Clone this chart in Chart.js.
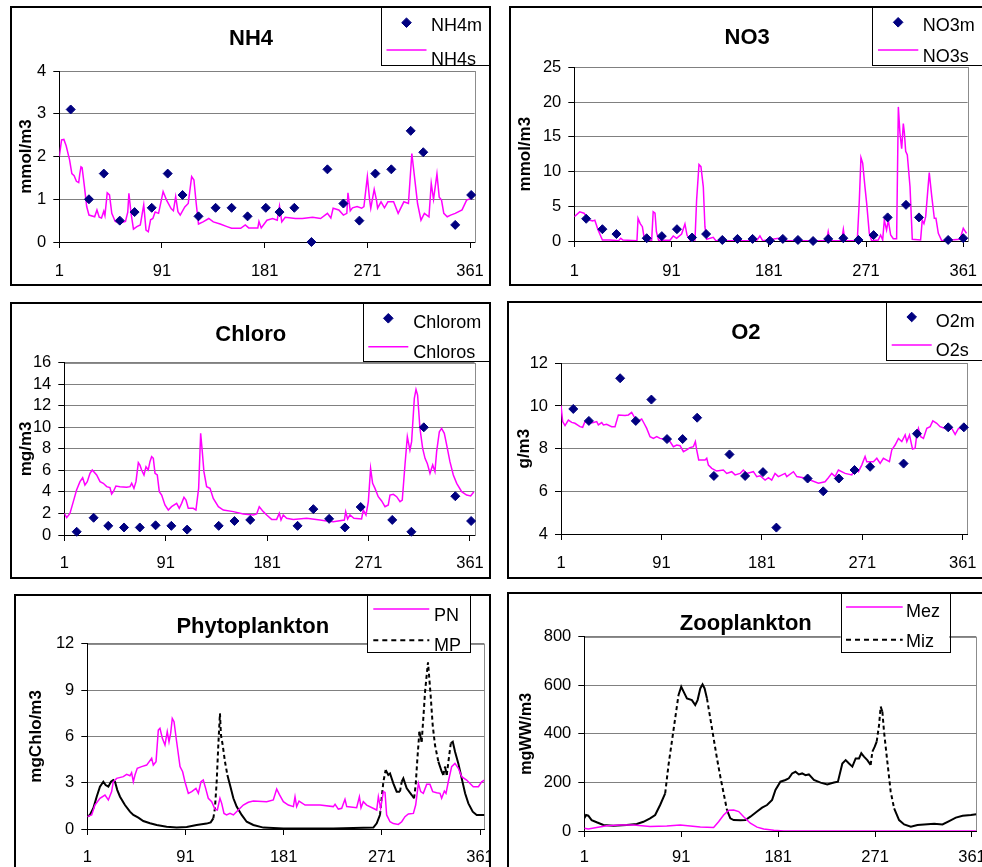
<!DOCTYPE html>
<html>
<head>
<meta charset="utf-8">
<script src="https://cdn.jsdelivr.net/npm/chart.js@4.4.1/dist/chart.umd.min.js"></script>
<style>
  html, body { margin: 0; padding: 0; background: #fff; width: 982px; height: 867px; overflow: hidden; position: relative; }
  canvas, .frame { position: absolute; }
  .frame { border: 2px solid #000; box-sizing: border-box; pointer-events: none; }
</style>
</head>
<body>
<script>
// Day of year axis, shared by all six panels
const DAY_TICKS = [1, 91, 181, 271, 361];

// Y tick labels
const NH4_TICKS = [0, 1, 2, 3, 4];
const NO3_TICKS = [0, 5, 10, 15, 20, 25];
const CHLORO_TICKS = [0, 2, 4, 6, 8, 10, 12, 14, 16];
const O2_TICKS = [4, 6, 8, 10, 12];
const PHYTO_TICKS = [0, 3, 6, 9, 12];
const ZOO_TICKS = [0, 200, 400, 600, 800];

// NH4 measured / simulated
const nh4mDays = [11, 27, 40, 54, 67, 82, 96, 109, 123, 138, 152, 166, 182, 194, 207, 222, 236, 250, 264, 278, 292, 309, 320, 348, 362];
const nh4mValues = [3.1, 1.0, 1.6, 0.5, 0.7, 0.8, 1.6, 1.1, 0.6, 0.8, 0.8, 0.6, 0.8, 0.7, 0.8, 0, 1.7, 0.9, 0.5, 1.6, 1.7, 2.6, 2.1, 0.4, 1.1];
const nh4sDays = [1, 3, 5, 7, 10, 12, 14, 16, 18, 19, 20, 21, 23, 25, 27, 32, 34, 36, 38, 40, 41, 43, 45, 47, 50, 54, 59, 61, 62, 64, 66, 69, 72, 75, 77, 79, 81, 83, 85, 88, 92, 95, 99, 101, 103, 105, 107, 111, 114, 117, 119, 121, 123, 127, 132, 136, 142, 148, 152, 160, 164, 167, 175, 176, 178, 183, 188, 192, 194, 196, 199, 208, 214, 223, 230, 236, 239, 241, 246, 250, 253, 254, 256, 258, 262, 266, 268, 271, 273, 274, 277, 279, 280, 283, 286, 289, 294, 298, 303, 307, 310, 312, 315, 318, 321, 325, 327, 329, 332, 334, 336, 338, 341, 344, 348, 354, 358, 362, 365];
const nh4sValues = [2.0, 2.39, 2.4, 2.25, 1.92, 1.6, 1.55, 1.42, 1.39, 1.6, 1.76, 1.74, 1.3, 0.83, 0.63, 0.59, 0.75, 0.58, 0.56, 0.72, 0.62, 1.15, 1.1, 0.67, 0.48, 0.44, 0.48, 0.7, 1.14, 0.65, 0.3, 0.36, 0.4, 0.87, 0.28, 0.24, 0.52, 0.55, 0.7, 0.67, 1.18, 0.98, 0.78, 0.73, 1.06, 0.71, 0.63, 0.82, 0.9, 1.53, 1.45, 0.9, 0.42, 0.47, 0.55, 0.47, 0.42, 0.36, 0.32, 0.32, 0.4, 0.33, 0.33, 0.48, 0.33, 0.51, 0.55, 0.51, 0.84, 0.47, 0.58, 0.55, 0.55, 0.58, 0.55, 0.67, 0.56, 0.79, 0.75, 0.63, 0.67, 1.15, 0.73, 0.8, 0.83, 0.79, 0.83, 1.53, 0.98, 0.79, 1.23, 0.98, 0.79, 0.94, 0.8, 0.94, 0.94, 0.67, 0.94, 0.9, 2.07, 1.6, 0.9, 0.51, 0.67, 0.59, 1.37, 1.0, 1.59, 1.05, 0.98, 0.67, 0.59, 0.63, 0.67, 0.75, 0.98, 1.02, 1.13];

// NO3
const no3mDays = [12, 27, 40, 68, 82, 96, 110, 123, 138, 152, 166, 182, 194, 208, 222, 236, 250, 264, 278, 291, 308, 320, 347, 361];
const no3mValues = [3.2, 1.7, 1.0, 0.4, 0.7, 1.7, 0.5, 1.0, 0.15, 0.3, 0.3, 0.05, 0.3, 0.15, 0, 0.3, 0.4, 0.15, 0.85, 3.4, 5.2, 3.4, 0.15, 0.4];
const no3sDays = [1, 6, 10, 15, 18, 20, 23, 25, 27, 34, 42, 44, 46, 59, 60, 62, 64, 65.5, 68, 72.6, 74, 75.7, 77, 79, 89.5, 92.6, 95.7, 100.3, 103.4, 105.3, 108, 112.7, 114.2, 116.4, 118.2, 120.4, 121.9, 123.5, 129.6, 132, 169.7, 172.8, 175.3, 190, 193, 234.5, 236, 237.6, 248.4, 250, 251.5, 262.9, 264.8, 266.3, 267.9, 270, 271.6, 274, 276.2, 282.3, 284.5, 286.4, 287.9, 290, 291.6, 293.8, 296.2, 299.3, 300.9, 302.4, 304, 305.5, 306.4, 307.7, 309.2, 311.7, 313.8, 321.5, 323, 324.6, 326.2, 329.5, 331.7, 334.2, 335.7, 337.9, 341, 357.9, 361, 364];
const no3sValues = [3.5, 4.2, 4.0, 3.0, 2.9, 3.0, 1.6, 0.86, 0.14, 0.14, 0.05, 0.38, 0.14, 0.05, 3.26, 2.5, 2.06, 0.62, 0.1, 0.1, 4.22, 4.0, 1.34, 0.1, 0.1, 0.72, 0.38, 1.0, 2.45, 0.86, 0.14, 0.14, 5.9, 11.0, 10.7, 7.8, 2.06, 0.24, 0.53, 0.05, 0.05, 0.72, 0.05, 0.38, 0.05, 0.05, 1.34, 0.05, 0.05, 1.68, 0.05, 0.05, 5.9, 12.0, 11.2, 7.8, 5.42, 1.1, 0.05, 0.14, 0.86, 0.14, 3.0, 1.58, 3.0, 0.86, 0.34, 0.34, 19.3, 15.5, 13.3, 16.9, 15.7, 12.9, 12.4, 7.8, 0.24, 0.14, 3.0, 2.5, 3.5, 9.84, 6.6, 3.26, 3.26, 1.1, 0.05, 0.24, 1.82, 1.1];

// Chlorophyll
const chlormDays = [12, 27, 40, 54, 68, 82, 96, 110, 138, 152, 166, 208, 222, 236, 250, 264, 292, 309, 320, 348, 362];
const chlormValues = [0.3, 1.6, 0.85, 0.7, 0.7, 0.9, 0.85, 0.5, 0.85, 1.3, 1.4, 0.85, 2.4, 1.5, 0.7, 2.6, 1.4, 0.3, 10.0, 3.6, 1.3];
const chlorsDays = [1, 3.1, 6, 9, 11.9, 14.9, 17.3, 19.3, 21.4, 23.8, 25.8, 29.7, 32.7, 35.6, 38.6, 41.5, 43, 44.5, 46.8, 50.4, 56.3, 59.3, 60.8, 62.8, 64.6, 66.7, 68.1, 69.6, 71.7, 73.5, 75.5, 77, 78.5, 80, 81.5, 83.5, 85.3, 87.4, 90.3, 93.3, 96.2, 100.7, 103, 105.1, 107.2, 109, 111, 115.5, 117.8, 120.2, 122, 123.2, 124.9, 127.3, 130.3, 133.2, 137.7, 142.1, 151, 159.8, 168.7, 171.7, 174, 177.6, 180.6, 185, 189.4, 191.8, 193.3, 195.3, 198.3, 204.2, 216, 227.9, 232.3, 239.7, 249.5, 250.7, 252.4, 254.5, 258, 264.8, 266.3, 268.7, 270.8, 272.8, 274.6, 276.7, 279.6, 282.6, 285.6, 288.5, 290, 293, 295.9, 298.9, 300.9, 303.3, 305.4, 307.7, 309.2, 311.6, 313.1, 314.5, 316.6, 319, 321.1, 323.1, 325.5, 327.9, 329.9, 331.4, 333.8, 335.8, 338.2, 340.3, 343.2, 346.2, 349.2, 353.6, 358, 361.6, 364.5];
const chlorsValues = [2.01, 1.61, 2.01, 3.1, 4.18, 4.95, 5.32, 4.64, 4.95, 5.73, 6.04, 5.57, 4.95, 4.8, 4.49, 4.4, 3.81, 4.02, 4.55, 4.49, 4.43, 4.49, 4.8, 4.33, 4.95, 6.72, 6.5, 6.04, 5.57, 6.34, 6.04, 6.81, 7.27, 7.12, 5.73, 5.57, 4.02, 3.71, 2.79, 2.32, 2.63, 2.94, 2.48, 2.94, 3.5, 3.25, 2.48, 2.48, 2.32, 4.33, 9.44, 8.05, 5.88, 4.49, 4.33, 3.4, 2.63, 2.32, 2.17, 1.95, 1.86, 1.95, 2.63, 2.17, 1.86, 1.45, 1.45, 2.01, 1.39, 1.86, 1.55, 1.45, 1.55, 1.39, 1.33, 1.24, 1.39, 2.17, 1.49, 1.86, 1.55, 1.49, 2.32, 1.86, 3.1, 6.19, 4.8, 4.33, 3.56, 3.16, 2.63, 2.79, 3.71, 3.78, 3.56, 3.1, 3.25, 6.5, 9.13, 7.89, 8.67, 12.69, 13.52, 13.0, 9.9, 8.05, 7.12, 6.65, 5.73, 6.5, 5.88, 7.74, 9.59, 9.9, 9.44, 8.36, 6.81, 5.57, 4.8, 4.02, 3.71, 3.62, 4.02];

// O2
const o2mDays = [12, 26, 54, 68, 82, 96, 110, 123, 138, 152, 166, 182, 194, 222, 236, 250, 264, 278, 308, 320, 348, 362];
const o2mValues = [9.86, 9.3, 11.3, 9.3, 10.3, 8.45, 8.45, 9.45, 6.72, 7.73, 6.72, 6.9, 4.3, 6.6, 6.0, 6.6, 7.0, 7.15, 7.3, 8.7, 9.0, 9.0];
const o2sDays = [1, 2.5, 4.6, 7.6, 10.6, 13.5, 18, 20.4, 22.5, 26.4, 30, 33, 34.5, 37.5, 39, 41.9, 46.4, 49.4, 52.4, 58.4, 61.4, 64.3, 67.3, 70.3, 73.3, 75.4, 77.8, 80.8, 83.8, 86.8, 89.7, 92.7, 95.7, 98.7, 101.7, 104.7, 107.7, 110.7, 113.6, 116.6, 119.6, 121.4, 122.6, 124.4, 130.1, 131.6, 133.1, 136.1, 140.5, 146.5, 149.5, 154, 157, 161.5, 164.4, 167.4, 173.4, 176.4, 179.4, 183.9, 186.9, 189.8, 192.8, 195.8, 201.8, 203.3, 209.3, 212.3, 218.2, 224.2, 231.7, 237.6, 240.6, 243.6, 246.6, 249.6, 255.6, 261.6, 264.5, 267.5, 270.5, 273.5, 275, 281, 284, 287, 289.9, 295.3, 297.4, 300.4, 303.4, 306.4, 309.4, 310.9, 313.3, 316, 318.3, 319.8, 321.3, 323.4, 325.8, 328.8, 331.8, 334.2, 337.7, 340.7, 345.2, 351.2, 354.2, 357.2, 360.2, 363.1, 365];
const o2sValues = [10.02, 9.27, 9.08, 9.34, 9.23, 9.19, 9.03, 9.0, 9.27, 9.19, 9.23, 9.27, 9.11, 9.22, 9.11, 9.14, 9.03, 9.03, 9.58, 9.55, 9.58, 9.7, 9.42, 9.3, 9.39, 9.19, 8.95, 8.56, 8.48, 8.56, 8.48, 8.45, 8.41, 8.33, 8.09, 8.17, 8.14, 7.86, 7.94, 8.05, 8.09, 8.33, 7.94, 7.47, 7.47, 7.55, 7.23, 7.08, 6.95, 7.0, 6.84, 6.92, 6.77, 6.84, 7.0, 6.84, 6.92, 6.69, 6.73, 6.53, 6.64, 6.53, 6.84, 6.69, 6.84, 6.69, 6.92, 6.69, 6.64, 6.53, 6.38, 6.45, 6.64, 6.84, 6.69, 7.0, 6.84, 6.77, 7.08, 6.92, 7.23, 7.63, 7.39, 7.39, 7.55, 7.31, 7.55, 7.39, 7.94, 8.17, 8.48, 8.33, 8.64, 8.33, 8.64, 7.98, 8.02, 8.64, 8.95, 8.56, 8.48, 8.95, 9.03, 9.3, 9.19, 9.03, 8.95, 8.95, 8.67, 8.95, 8.95, 9.11, 9.03];

// Phytoplankton
const pnDays = [1, 5, 8, 12.6, 17.2, 20.3, 23.3, 24.8, 27.9, 34, 37.1, 40.1, 41.6, 43.2, 44.7, 46.8, 50.8, 55.4, 60, 61.5, 64, 66.1, 67.6, 69.8, 72.2, 74.3, 75.9, 77.4, 78.9, 80.5, 82.9, 86, 88.4, 90.5, 93.6, 96.7, 100.6, 102.8, 105.2, 107.3, 109.5, 111.9, 115, 118, 120.2, 122.6, 124.2, 126.3, 128.7, 131.8, 134.9, 139.4, 144, 148.6, 153.2, 165.4, 171.5, 174.6, 177, 180.7, 185.3, 189.9, 191.4, 192.9, 195.1, 200.6, 214.3, 226.5, 228.1, 231.1, 234.2, 237.2, 238.8, 247.9, 250.4, 251.9, 254, 257.1, 266.3, 267.8, 269.9, 272.4, 273.9, 275.4, 278.5, 281.5, 286.1, 289.2, 292.2, 295.3, 299.9, 302, 304.5, 306.6, 309, 312.1, 315.1, 317.6, 321.2, 324.3, 325.8, 328.3, 329.8, 331.9, 335, 338, 341.1, 344.2, 348.7, 354.8, 359.5, 362.5, 365];
const pnValues = [0.8, 0.91, 1.55, 1.99, 2.2, 1.88, 2.42, 3.06, 3.28, 3.39, 3.54, 3.45, 3.65, 3.06, 3.5, 3.93, 4.04, 4.14, 4.58, 4.14, 4.36, 6.41, 6.52, 5.87, 5.44, 6.3, 5.65, 6.19, 7.16, 6.95, 5.65, 4.04, 3.71, 3.06, 2.31, 2.42, 2.63, 2.31, 3.06, 3.17, 2.63, 1.99, 1.77, 1.29, 1.23, 1.99, 1.66, 1.01, 0.91, 1.01, 0.91, 1.23, 1.55, 1.73, 1.81, 1.77, 1.88, 2.59, 2.24, 1.77, 1.55, 1.45, 2.09, 1.45, 1.81, 1.55, 1.55, 1.45, 1.6, 1.29, 1.34, 1.92, 1.45, 1.38, 2.09, 1.38, 1.77, 1.55, 1.23, 2.09, 1.34, 2.42, 2.37, 0.91, 0.47, 0.35, 0.3, 0.47, 0.8, 0.97, 1.01, 1.55, 2.96, 2.42, 2.31, 2.89, 2.89, 2.42, 2.35, 2.31, 1.99, 2.46, 2.31, 3.06, 4.04, 4.25, 3.93, 3.39, 3.17, 2.74, 2.74, 3.06, 3.17];
const mpDays = [1, 3.4, 6.5, 9.6, 12.6, 15.7, 17.8, 20.3, 22.7, 24.8, 26.4, 28.5, 31, 35.5, 40.1, 43.2, 47.8, 52.3, 58.5, 64.6, 73.7, 82.9, 92.1, 101.2, 110.4, 114.1, 116.5, 118, 119.6, 121.1, 122.6, 123.5, 125.1, 127.2, 129.4, 131.8, 134.9, 137.9, 142.5, 147.1, 153.2, 162.4, 180.7, 226.5, 263.2, 266.3, 269.3, 270.8, 272.4, 274.5, 276.9, 278.5, 281.5, 284.6, 287.6, 289.2, 290.7, 293.8, 298.4, 300.5, 302, 303.6, 305.4, 307.5, 309, 310.6, 312.1, 313.3, 314.5, 315.8, 317.6, 319.7, 322.8, 325.9, 327.4, 328.9, 330.5, 332, 334.2, 336, 338.1, 341.1, 344.2, 347.3, 350.3, 354.3, 357.9, 365];
const mpValues = [0.8, 0.91, 1.34, 2.09, 2.74, 3.06, 2.85, 2.74, 3.06, 3.17, 3.06, 2.52, 2.09, 1.55, 1.12, 0.91, 0.73, 0.52, 0.37, 0.26, 0.15, 0.09, 0.13, 0.26, 0.35, 0.43, 0.69, 1.34, 3.06, 5.44, 7.49, 6.09, 5.44, 4.36, 3.5, 2.85, 1.99, 1.45, 0.91, 0.47, 0.26, 0.09, 0.04, 0.04, 0.09, 0.37, 0.91, 1.99, 3.06, 3.82, 3.5, 3.6, 2.96, 2.42, 2.42, 3.06, 3.28, 2.63, 2.2, 1.99, 2.85, 4.58, 6.3, 5.65, 7.16, 8.89, 9.97, 10.79, 9.75, 8.57, 6.73, 5.44, 4.36, 3.71, 3.5, 4.04, 3.5, 4.36, 5.55, 5.65, 5.0, 4.25, 3.28, 2.31, 1.66, 1.12, 0.91, 0.91];

// Zooplankton
const mezDays = [1, 4.7, 12.5, 21.8, 34.2, 46.6, 62.1, 77.6, 90.1, 99.4, 108.7, 121.1, 125.7, 130.4, 135.1, 139.7, 144.4, 149, 155.2, 161.4, 167.6, 177, 186.3, 365];
const mezValues = [11, 8, 14, 22, 25, 25, 19, 21, 25, 21, 16, 14, 38, 66, 85, 86, 80, 59, 32, 16, 8, 3, 0, 0];
const mizDays = [1, 2.6, 4.7, 7.8, 12.5, 18.7, 28, 40.4, 49.7, 55.9, 62.1, 66.8, 71.4, 76.1, 79.2, 82.3, 85.4, 88.5, 91, 93.2, 96.3, 100.9, 104, 106.2, 108.7, 110.8, 112.7, 114.9, 118, 121.1, 124.2, 127.3, 130.4, 133.5, 136.6, 139.7, 145.9, 150.6, 155.2, 161.4, 166.1, 170.7, 175.4, 178.5, 183.1, 187.8, 190.9, 194, 197.1, 200.2, 203.3, 206.4, 209.5, 214.2, 220.4, 226.6, 232.8, 236.5, 240.6, 243.7, 246.8, 249.9, 253, 256.1, 258.2, 260.7, 263.8, 266.9, 268.5, 270.7, 272.5, 274.7, 276.2, 277.8, 279.3, 282.4, 285.5, 288.7, 293.3, 298, 304.2, 310.4, 316.6, 325.9, 333.6, 339.8, 346, 352.3, 360, 365];
const mizValues = [52, 66, 63, 45, 36, 25, 22, 25, 29, 38, 52, 66, 107, 155, 272, 368, 464, 560, 594, 574, 546, 539, 519, 539, 587, 604, 587, 546, 464, 381, 299, 224, 155, 86, 52, 45, 44, 45, 59, 80, 96, 107, 128, 169, 203, 210, 217, 237, 244, 233, 237, 230, 233, 210, 199, 192, 200, 203, 278, 292, 278, 265, 299, 299, 320, 306, 292, 272, 327, 347, 368, 436, 512, 491, 409, 285, 162, 93, 45, 27, 18, 25, 27, 30, 27, 41, 55, 63, 66, 69];

const FONT = '"Liberation Sans", Arial, Helvetica, sans-serif';
const NAVY = '#000080';
const PINK = '#ff00ff';
const BLACK = '#000000';
const X_AXIS_H = 40;

// Page layout of each panel (page pixels): outer frame, plot area, title, legend
const LAYOUT = {
    nh4:    { frame: [10, 6, 481, 280],   plot: [59.3, 71, 474.6, 242],     title: [251, 45],      yTitleSize: 17, yTitlePad: 6.5, xPad: 13.8,
              legend: { box: [381, 6, 109, 59],        mark: [386.5, 426.5], textX: 431,   markY: [22.7, 50],    textY: [30.7, 64.5] } },
    no3:    { frame: [509, 6, 483, 280],  plot: [574.3, 67.3, 967.6, 241],  title: [747.2, 44],    yTitleSize: 17, yTitlePad: 5.8, xPad: 14.8,
              legend: { box: [872.3, 7.3, 125, 57.7],  mark: [878, 918.3],   textX: 922.7, markY: [22.3, 50],    textY: [30.7, 61.7] } },
    chloro: { frame: [10, 302, 481, 277], plot: [64.3, 362.7, 474.5, 535],  title: [250.7, 341],   yTitleSize: 17, yTitlePad: 6.5, xPad: 12.4,
              legend: { box: [362.7, 303.3, 129, 58.4], mark: [368.3, 408.3], textX: 413.3, markY: [318.3, 346.7], textY: [328.3, 357.7] } },
    o2:     { frame: [507, 301, 485, 278], plot: [561, 363.3, 967.2, 534],  title: [745.8, 339],   yTitleSize: 17, yTitlePad: 7.5, xPad: 13.4,
              legend: { box: [886, 301.7, 110, 57.6],  mark: [891.7, 931.7], textX: 935.7, markY: [317, 345],    textY: [326.7, 355.7] } },
    phyto:  { frame: [14, 594, 477, 286], plot: [87.3, 643.7, 484.4, 829],  title: [252.8, 632.7], yTitleSize: 17, yTitlePad: 12.5, xPad: 12.8,
              legend: { box: [367.3, 593, 102.7, 59],  mark: [373.3, 429.3], textX: 434,   markY: [609, 640.3],  textY: [621.3, 651.3] } },
    zoo:    { frame: [507, 592, 485, 288], plot: [584.3, 636.7, 976.3, 831], title: [745.8, 630],  yTitleSize: 16, yTitlePad: 9.8, xPad: 10.4,
              legend: { box: [840.7, 592.7, 108.6, 58.6], mark: [846, 902.7], textX: 906,  markY: [607, 639.7],  textY: [617.3, 647.3] } }
};

function points(days, values) {
    return days.map((d, i) => ({ x: d, y: values[i] }));
}

// Steep daily steps show the gaps of the dash, flat stretches look solid
function steep(ctx) {
    const dx = Math.abs(ctx.p1.x - ctx.p0.x);
    const dy = Math.abs(ctx.p1.y - ctx.p0.y);
    return dy > 4.8 * dx;
}

function measured(label, days, values) {
    return {
        label: label,
        data: points(days, values),
        showLine: false,
        clip: false,
        pointStyle: 'rectRot',
        pointRadius: 4.5,
        pointBorderWidth: 1,
        pointBackgroundColor: NAVY,
        pointBorderColor: NAVY,
        backgroundColor: NAVY,
        borderColor: NAVY
    };
}

function simulated(label, days, values, color, width, dotted) {
    const ds = {
        label: label,
        data: points(days, values),
        borderColor: color,
        backgroundColor: color,
        borderWidth: width,
        pointRadius: 0,
        tension: 0,
        fill: false
    };
    if (dotted) {
        ds.legendDash = [5, 4];
        ds.segment = { borderDash: ctx => steep(ctx) ? [4, 3] : undefined };
    }
    return ds;
}

// Plot border, panel title and the boxed legend
function decor(p, titleText) {
    const fx = p.frame[0], fy = p.frame[1];
    return {
        id: 'decor',
        beforeDraw(chart) {
            const a = chart.chartArea;
            const ctx = chart.ctx;
            ctx.save();
            ctx.strokeStyle = '#8c8c8c';
            ctx.lineWidth = 1;
            ctx.strokeRect(Math.round(a.left) + 0.5, Math.round(a.top) + 0.5,
                Math.round(a.right) - Math.round(a.left), Math.round(a.bottom) - Math.round(a.top));
            ctx.restore();
        },
        afterDraw(chart) {
            const ctx = chart.ctx;
            const lg = p.legend;
            ctx.save();
            ctx.translate(-fx, -fy);

            ctx.fillStyle = '#000';
            ctx.font = 'bold 22px ' + FONT;
            ctx.textAlign = 'center';
            ctx.textBaseline = 'alphabetic';
            ctx.fillText(titleText, p.title[0], p.title[1]);

            const [bx, by, bw, bh] = lg.box;
            ctx.fillStyle = '#fff';
            ctx.fillRect(bx, by, bw, bh);
            ctx.strokeStyle = '#000';
            ctx.lineWidth = 1;
            ctx.strokeRect(Math.round(bx) + 0.5, Math.round(by) + 0.5, Math.round(bw), Math.round(bh));

            ctx.font = '18px ' + FONT;
            ctx.textAlign = 'left';
            chart.data.datasets.forEach((ds, i) => {
                const y = lg.markY[i];
                if (ds.showLine === false) {
                    ctx.fillStyle = ds.pointBackgroundColor;
                    ctx.strokeStyle = ds.pointBorderColor;
                    ctx.lineWidth = 1;
                    Chart.helpers.drawPoint(ctx, { pointStyle: 'rectRot', radius: 4.8, borderWidth: 1 },
                        (lg.mark[0] + lg.mark[1]) / 2, y);
                } else {
                    ctx.beginPath();
                    ctx.setLineDash(ds.legendDash || []);
                    ctx.strokeStyle = ds.borderColor;
                    ctx.lineWidth = ds.borderWidth;
                    ctx.moveTo(lg.mark[0], y);
                    ctx.lineTo(lg.mark[1], y);
                    ctx.stroke();
                    ctx.setLineDash([]);
                }
                ctx.fillStyle = '#000';
                ctx.fillText(ds.label, lg.textX, lg.textY[i]);
            });
            ctx.restore();
        }
    };
}

function addPanel(p, titleText, yTitle, yTicks, datasets) {
    const [fx, fy, fw, fh] = p.frame;
    const [l, t, r, b] = p.plot;

    const canvas = document.createElement('canvas');
    canvas.width = fw;
    canvas.height = fh;
    canvas.style.left = fx + 'px';
    canvas.style.top = fy + 'px';
    canvas.style.width = fw + 'px';
    canvas.style.height = fh + 'px';
    document.body.appendChild(canvas);

    const frame = document.createElement('div');
    frame.className = 'frame';
    frame.style.left = fx + 'px';
    frame.style.top = fy + 'px';
    frame.style.width = fw + 'px';
    frame.style.height = fh + 'px';
    document.body.appendChild(frame);

    const tickFont = { family: FONT, size: 16.5 };
    const yMin = yTicks[0];

    return new Chart(canvas, {
        type: 'line',
        data: { datasets: datasets },
        options: {
            responsive: false,
            animation: false,
            events: [],
            layout: { padding: { left: 0, top: t - fy, right: fx + fw - r, bottom: fy + fh - b - X_AXIS_H } },
            plugins: {
                legend: { display: false },
                title: { display: false },
                tooltip: { enabled: false }
            },
            scales: {
                x: {
                    type: 'linear',
                    min: 1,
                    max: 365,
                    afterBuildTicks: s => { s.ticks = DAY_TICKS.map(v => ({ value: v })); },
                    ticks: { font: tickFont, color: '#000', padding: p.xPad, maxRotation: 0, autoSkip: false },
                    grid: { drawOnChartArea: false, drawTicks: true, tickLength: 6, color: '#000' },
                    border: { color: '#000', width: 1 },
                    afterFit: s => { s.height = X_AXIS_H; s.paddingLeft = 0; s.paddingRight = 0; }
                },
                y: {
                    min: yMin,
                    max: yTicks[yTicks.length - 1],
                    afterBuildTicks: s => { s.ticks = yTicks.map(v => ({ value: v })); },
                    ticks: { font: tickFont, color: '#000', padding: 7, autoSkip: false },
                    grid: {
                        color: c => (c.tick && c.tick.value === yMin) ? '#000' : '#808080',
                        tickColor: '#000',
                        tickLength: 6
                    },
                    border: { color: '#000', width: 1 },
                    title: {
                        display: true,
                        text: yTitle,
                        color: '#000',
                        font: { family: FONT, size: p.yTitleSize, weight: 'bold' },
                        padding: { top: p.yTitlePad, bottom: 0 }
                    },
                    afterFit: s => { s.width = l - fx; s.paddingTop = 0; s.paddingBottom = 0; }
                }
            }
        },
        plugins: [decor(p, titleText)]
    });
}

addPanel(LAYOUT.nh4, 'NH4', 'mmol/m3', NH4_TICKS, [
    measured('NH4m', nh4mDays, nh4mValues),
    simulated('NH4s', nh4sDays, nh4sValues, PINK, 1.5, false)
]);

addPanel(LAYOUT.no3, 'NO3', 'mmol/m3', NO3_TICKS, [
    measured('NO3m', no3mDays, no3mValues),
    simulated('NO3s', no3sDays, no3sValues, PINK, 1.5, false)
]);

addPanel(LAYOUT.chloro, 'Chloro', 'mg/m3', CHLORO_TICKS, [
    measured('Chlorom', chlormDays, chlormValues),
    simulated('Chloros', chlorsDays, chlorsValues, PINK, 1.5, false)
]);

addPanel(LAYOUT.o2, 'O2', 'g/m3', O2_TICKS, [
    measured('O2m', o2mDays, o2mValues),
    simulated('O2s', o2sDays, o2sValues, PINK, 1.5, false)
]);

addPanel(LAYOUT.phyto, 'Phytoplankton', 'mgChlo/m3', PHYTO_TICKS, [
    simulated('PN', pnDays, pnValues, PINK, 1.5, false),
    simulated('MP', mpDays, mpValues, BLACK, 2, true)
]);

addPanel(LAYOUT.zoo, 'Zooplankton', 'mgWW/m3', ZOO_TICKS, [
    simulated('Mez', mezDays, mezValues, PINK, 1.5, false),
    simulated('Miz', mizDays, mizValues, BLACK, 2, true)
]);
</script>
</body>
</html>
